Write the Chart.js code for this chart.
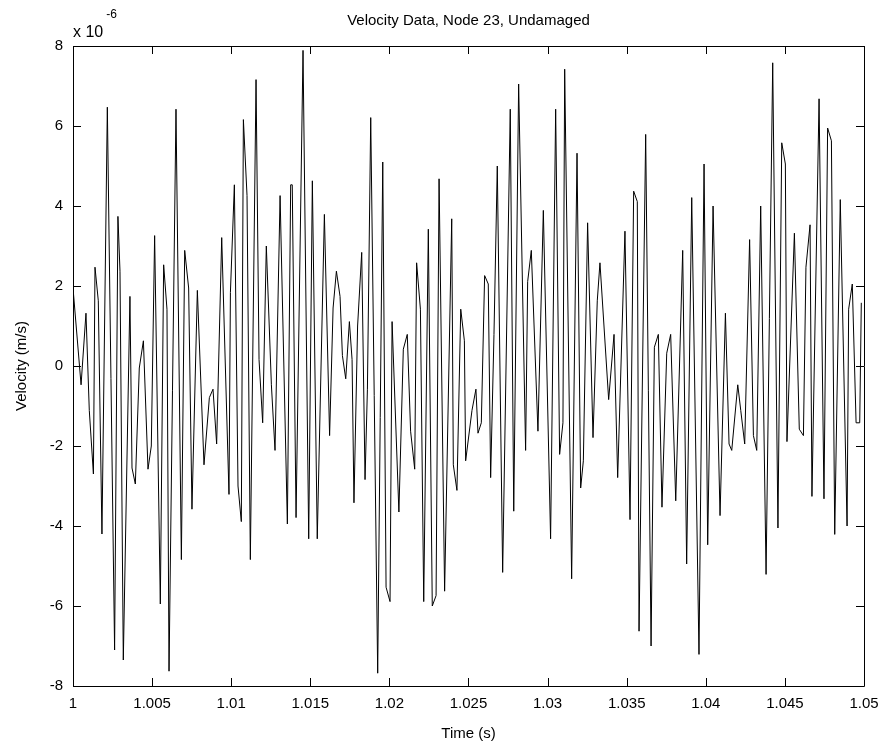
<!DOCTYPE html>
<html><head><meta charset="utf-8">
<script src="https://cdn.jsdelivr.net/npm/chart.js@4.4.1/dist/chart.umd.min.js"></script>
<style>html,body{margin:0;padding:0;background:#fff;}#wrap{width:892px;height:748px;}</style>
</head><body><div id="wrap"><canvas id="c" width="892" height="748"></canvas></div>
<script>
const timeSeconds = [
1.00000,1.00051,1.00082,1.00103,1.00129,1.00139,1.00160,1.00183,1.00217,1.00263,
1.00284,1.00297,1.00318,1.00360,1.00373,1.00394,1.00419,1.00445,1.00474,1.00495,1.00516,
1.00552,1.00573,1.00594,1.00607,1.00651,1.00685,1.00706,1.00731,1.00752,1.00786,
1.00828,1.00862,1.00885,1.00908,1.00940,1.00986,1.00995,1.01020,1.01043,1.01064,
1.01077,1.01100,1.01121,1.01157,1.01176,1.01199,1.01222,1.01254,1.01277,1.01309,
1.01355,1.01376,1.01386,1.01410,1.01454,1.01490,1.01513,1.01544,1.01589,1.01622,
1.01644,1.01665,1.01688,1.01703,1.01724,1.01747,1.01764,1.01776,1.01799,1.01825,
1.01846,1.01861,1.01882,1.01926,1.01958,1.01979,1.02004,1.02017,1.02060,1.02088,
1.02113,1.02134,1.02160,1.02172,1.02196,1.02217,1.02246,1.02271,1.02295,1.02314,
1.02349,1.02394,1.02404,1.02427,1.02451,1.02474,1.02482,1.02522,1.02547,1.02560,
1.02581,1.02602,1.02625,1.02640,1.02661,1.02682,1.02716,1.02764,1.02786,1.02817,
1.02861,1.02874,1.02897,1.02939,1.02973,1.03019,1.03051,1.03076,1.03097,1.03108,
1.03152,1.03186,1.03209,1.03226,1.03253,1.03287,1.03314,1.03331,1.03386,1.03420,
1.03443,1.03489,1.03521,1.03544,1.03567,1.03578,1.03620,1.03654,1.03675,1.03700,
1.03723,1.03753,1.03778,1.03810,1.03854,1.03879,1.03911,1.03957,1.03989,1.04012,
1.04046,1.04090,1.04124,1.04147,1.04164,1.04202,1.04221,1.04246,1.04277,1.04301,
1.04322,1.04347,1.04381,1.04423,1.04456,1.04480,1.04503,1.04513,1.04560,1.04591,
1.04617,1.04633,1.04659,1.04671,1.04716,1.04747,1.04770,1.04794,1.04815,1.04850,
1.04893,1.04903,1.04926,1.04950,1.04973,1.04983
];
// velocity in units of 1e-6 m/s
const velocityE6 = [
1.95,-0.47,1.32,-1.11,-2.70,2.47,1.63,-4.20,6.47,-7.10,
3.74,2.37,-7.35,1.74,-2.55,-2.95,-0.05,0.63,-2.58,-2.00,3.26,
-5.95,2.53,1.42,-7.63,6.42,-4.84,2.89,1.95,-3.58,1.89,
-2.47,-0.79,-0.58,-1.95,3.21,-3.21,1.84,4.53,-3.00,-3.89,
6.16,4.26,-4.84,7.16,0.16,-1.42,3.00,-0.47,-2.11,4.26,
-3.95,4.53,4.53,-3.79,7.89,-4.32,4.63,-4.32,3.79,-1.74,
1.45,2.37,1.74,0.26,-0.32,1.11,0.16,-3.42,1.00,2.84,
-2.84,-0.58,6.21,-7.68,5.10,-5.53,-5.89,1.11,-3.65,0.42,
0.79,-1.63,-2.58,2.58,1.42,-5.89,3.42,-6.00,-5.74,4.68,
-5.63,3.68,-2.47,-3.11,1.42,0.63,-2.37,-1.11,-0.58,-1.68,
-1.42,2.26,2.05,-2.79,0.79,5.00,-5.16,6.42,-3.63,7.05,
-2.11,2.11,2.89,-1.63,3.89,-4.32,6.42,-2.21,-1.42,7.42,
-5.32,5.32,-3.05,-2.37,3.58,-1.79,1.63,2.58,-0.84,0.79,
-2.79,3.37,-3.84,4.37,4.11,-6.63,5.79,-7.00,0.47,0.79,
-3.53,0.32,0.79,-3.37,2.89,-4.95,4.21,-7.21,5.05,-4.47,
4.00,-3.74,1.32,-1.95,-2.11,-0.47,-1.11,-1.95,3.16,-1.74,
-2.11,4.00,-5.21,7.58,-4.05,5.58,5.05,-1.89,3.32,-1.58,
-1.74,2.47,3.53,-3.26,6.68,-3.32,5.95,5.63,-4.21,4.16,
-4.00,1.42,2.05,-1.42,-1.42,1.58
];
const xTickValues = [1,1.005,1.01,1.015,1.02,1.025,1.03,1.035,1.04,1.045,1.05];
const xTickLabels = ['1','1.005','1.01','1.015','1.02','1.025','1.03','1.035','1.04','1.045','1.05'];
const yTickValues = [-8,-6,-4,-2,0,2,4,6,8];
const yTickLabels = ['-8','-6','-4','-2','0','2','4','6','8'];
const titleText = 'Velocity Data, Node 23, Undamaged';
const xAxisLabel = 'Time (s)';
const yAxisLabel = 'Velocity (m/s)';
const exponentBase = 'x 10';
const exponentPower = '-6';

const FONT = '"Liberation Sans", Arial, Helvetica, sans-serif';
const points = timeSeconds.map((t, i) => ({x: t, y: velocityE6[i]}));

const boxPlugin = {
  id: 'matlabBox',
  afterDraw(chart) {
    const {ctx, chartArea: a, scales} = chart;
    const tl = 8;
    ctx.save();
    ctx.strokeStyle = '#000';
    ctx.lineWidth = 1;
    ctx.beginPath();
    ctx.rect(Math.round(a.left) + 0.5, Math.round(a.top) + 0.5, Math.round(a.right - a.left), Math.round(a.bottom - a.top));
    ctx.stroke();
    ctx.beginPath();
    xTickValues.forEach(v => {
      const px = Math.round(scales.x.getPixelForValue(v)) + 0.5;
      ctx.moveTo(px, a.bottom); ctx.lineTo(px, a.bottom - tl);
      ctx.moveTo(px, a.top); ctx.lineTo(px, a.top + tl);
    });
    yTickValues.forEach(v => {
      const py = Math.round(scales.y.getPixelForValue(v)) + 0.5;
      ctx.moveTo(a.left, py); ctx.lineTo(a.left + tl, py);
      ctx.moveTo(a.right, py); ctx.lineTo(a.right - tl, py);
    });
    ctx.stroke();
    ctx.fillStyle = '#000';
    ctx.textBaseline = 'alphabetic';
    ctx.textAlign = 'left';
    ctx.font = '16px ' + FONT;
    ctx.fillText(exponentBase, a.left, 37);
    const w = ctx.measureText(exponentBase).width;
    ctx.font = '12px ' + FONT;
    ctx.fillText(exponentPower, a.left + w + 3, 18);
    ctx.restore();
  }
};

new Chart(document.getElementById('c'), {
  type: 'line',
  data: { datasets: [{
    data: points,
    borderColor: '#000',
    borderWidth: 1,
    pointRadius: 0,
    tension: 0,
    fill: false
  }]},
  options: {
    responsive: false,
    devicePixelRatio: 1,
    animation: false,
    layout: { padding: { left: 0, right: 28, top: 0, bottom: 0 } },
    plugins: {
      legend: { display: false },
      tooltip: { enabled: false },
      title: {
        display: true, text: titleText, color: '#000', fullSize: false,
        font: { family: FONT, size: 15, weight: 'normal', lineHeight: 1.2 },
        padding: { top: 12, bottom: 16 }
      }
    },
    scales: {
      x: {
        type: 'linear', min: 1, max: 1.05,
        afterBuildTicks: s => { s.ticks = xTickValues.map(v => ({value: v})); },
        afterFit: s => { s.height = 62; },
        grid: { display: false, drawTicks: false },
        border: { display: false },
        ticks: {
          color: '#000', padding: 9, maxRotation: 0, autoSkip: false,
          font: { family: FONT, size: 15 },
          callback: (v, i) => xTickLabels[i]
        },
        title: { display: true, text: xAxisLabel, color: '#000',
          font: { family: FONT, size: 15, lineHeight: 1.2 }, padding: { top: 0, bottom: 5 } }
      },
      y: {
        type: 'linear', min: -8, max: 8,
        afterBuildTicks: s => { s.ticks = yTickValues.map(v => ({value: v})); },
        afterFit: s => { s.width = 73; },
        grid: { display: false, drawTicks: false },
        border: { display: false },
        ticks: {
          color: '#000', padding: 10, autoSkip: false,
          font: { family: FONT, size: 15 },
          callback: (v, i) => yTickLabels[i]
        },
        title: { display: true, text: yAxisLabel, color: '#000',
          font: { family: FONT, size: 15, lineHeight: 1.2 }, padding: { top: 13, bottom: 0 } }
      }
    }
  },
  plugins: [boxPlugin]
});
</script></body></html>
